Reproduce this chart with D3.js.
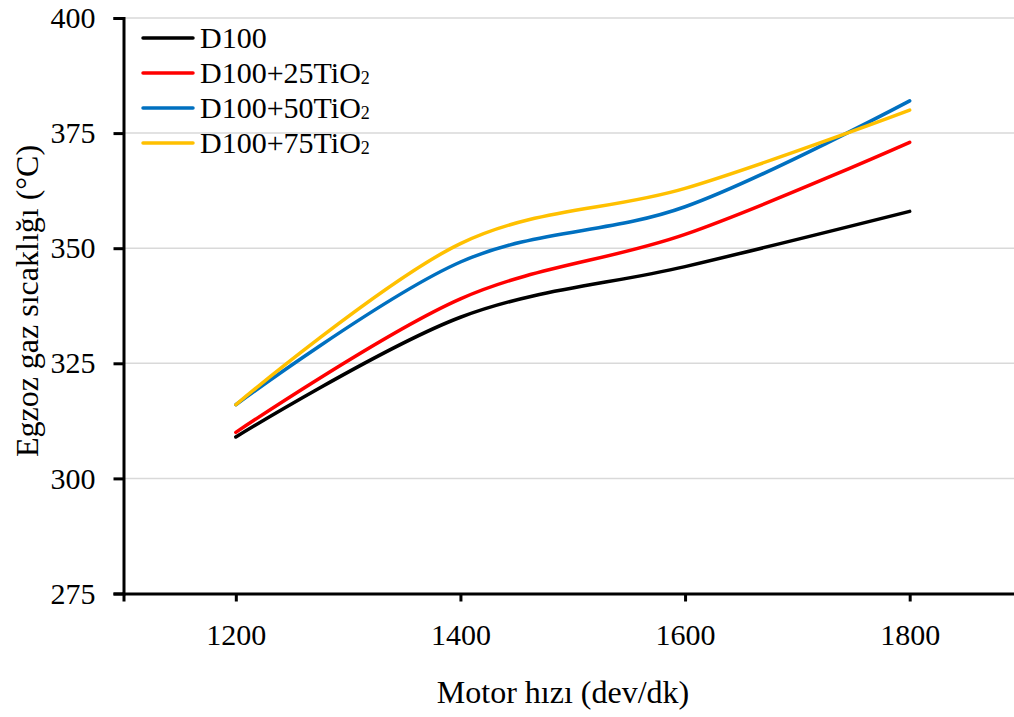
<!DOCTYPE html>
<html>
<head>
<meta charset="utf-8">
<script src="https://cdn.jsdelivr.net/npm/d3@7"></script>
<style>
  html, body { margin: 0; padding: 0; background: #fff; }
  svg text { font-family: "Times New Roman", "Liberation Serif", Tinos, "DejaVu Serif", serif; fill: #000; }
</style>
</head>
<body>
<svg id="chart"></svg>
<script>
// chart data
const speeds = [1200, 1400, 1600, 1800];
const d100 = [309, 335, 346, 358];
const d100Ti25 = [310, 339, 353, 373];
const d100Ti50 = [316, 347, 359, 382];
const d100Ti75 = [316, 351, 363, 380];
const seriesNames = ["D100", "D100+25TiO", "D100+50TiO", "D100+75TiO"];
const seriesSubs = ["", "2", "2", "2"];
const seriesColors = ["#000000", "#ff0000", "#0070c0", "#ffc000"];
const yTicks = [275, 300, 325, 350, 375, 400];
const xTicks = [1200, 1400, 1600, 1800];

const width = 1014, height = 717;

const svg = d3.select("#chart")
    .attr("width", width)
    .attr("height", height);

const x = d3.scaleLinear().domain([1100, 1900]).range([123.5, 1022]);
const y = d3.scaleLinear().domain([275, 400]).range([593.5, 18]);

// horizontal gridlines
svg.append("g")
    .selectAll("line")
    .data(yTicks.slice(1))
    .enter()
    .append("line")
    .attr("x1", x(1100))
    .attr("x2", width)
    .attr("y1", d => y(d))
    .attr("y2", d => y(d))
    .attr("stroke", "#d9d9d9")
    .attr("stroke-width", 1.5);

// y axis
const yAxis = svg.append("g")
    .attr("transform", `translate(${x(1100)},0)`)
    .call(d3.axisLeft(y).tickValues(yTicks).tickSize(10).tickPadding(18));
yAxis.attr("font-family", null);
yAxis.select(".domain").attr("stroke", "#000").attr("stroke-width", 3);
yAxis.selectAll(".tick line").attr("stroke", "#000").attr("stroke-width", 3);
yAxis.selectAll(".tick text").style("font-size", "30px");

// x axis
const xAxis = svg.append("g")
    .attr("transform", `translate(0,${y(275)})`)
    .call(d3.axisBottom(x).tickValues(xTicks).tickFormat(d3.format("d")).tickSize(8).tickPadding(22));
xAxis.attr("font-family", null);
xAxis.select(".domain").attr("stroke", "#000").attr("stroke-width", 3);
xAxis.selectAll(".tick line").attr("stroke", "#000").attr("stroke-width", 3);
xAxis.selectAll(".tick text").style("font-size", "30px");

// lines
const allSeries = [d100, d100Ti25, d100Ti50, d100Ti75];
const line = d3.line()
    .x((d, i) => x(speeds[i]))
    .y(d => y(d))
    .curve(d3.curveCatmullRom.alpha(0));

svg.append("g")
    .selectAll("path")
    .data(allSeries)
    .enter()
    .append("path")
    .attr("d", line)
    .attr("fill", "none")
    .attr("stroke", (d, i) => seriesColors[i])
    .attr("stroke-width", 3.5)
    .attr("stroke-linecap", "round");

// legend
const legend = svg.append("g")
    .selectAll("g")
    .data(seriesNames)
    .enter()
    .append("g")
    .attr("transform", (d, i) => `translate(143,${38 + i * 35})`);

legend.append("line")
    .attr("x1", 0)
    .attr("x2", 50)
    .attr("stroke", (d, i) => seriesColors[i])
    .attr("stroke-width", 3.5)
    .attr("stroke-linecap", "round");

const legendText = legend.append("text")
    .attr("x", 57)
    .attr("y", 10)
    .style("font-size", "30px");
legendText.append("tspan").text(d => d);
legendText.append("tspan")
    .attr("dy", 1)
    .style("font-size", "18px")
    .text((d, i) => seriesSubs[i]);

// axis titles
svg.append("text")
    .attr("x", 563)
    .attr("y", 703)
    .attr("text-anchor", "middle")
    .style("font-size", "32px")
    .text("Motor hızı (dev/dk)");

svg.append("text")
    .attr("transform", "translate(38,301) rotate(-90)")
    .attr("text-anchor", "middle")
    .style("font-size", "32px")
    .text("Egzoz gaz sıcaklığı (°C)");
</script>
</body>
</html>
